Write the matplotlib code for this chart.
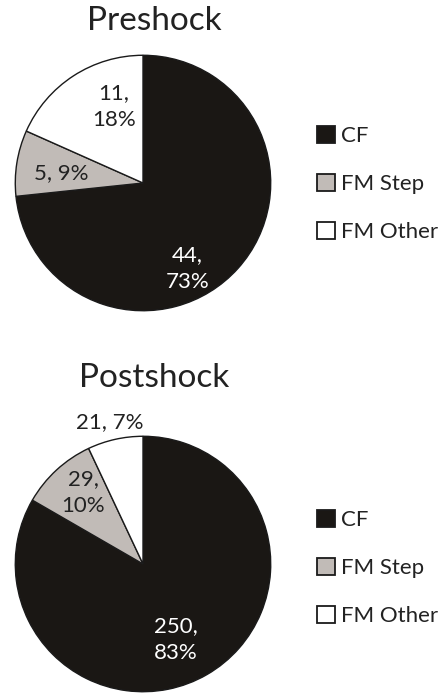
import matplotlib
matplotlib.use('Agg')
import matplotlib.pyplot as plt
from matplotlib.patches import Patch

plt.rcParams['font.family'] = ['Lato', 'DejaVu Sans']

# 数据
categories = ['CF', 'FM Step', 'FM Other']
colors = ['#1a1714', '#c1bbb7', '#ffffff']

pre_counts = [44, 5, 11]
pre_pcts = [73, 9, 18]
post_counts = [250, 29, 21]
post_pcts = [83, 10, 7]

# 标签排版: 换行或同一行, 以及在饼图坐标中的位置
pre_seps = ['\n', ' ', '\n']
post_seps = ['\n', '\n', ' ']
pre_label_xy = [(0.35, -0.67), (-0.64, 0.08), (-0.23, 0.60)]
post_label_xy = [(0.26, -0.59), (-0.47, 0.56), (-0.26, 1.11)]

W, H = 446, 696
fig = plt.figure(figsize=(W / 100, H / 100), dpi=100)


def draw_pie(cx, cy, r, title, title_y, counts, pcts, seps, label_xy, legend_y):
    ax = fig.add_axes([(cx - r) / W, 1 - (cy + r) / H, 2 * r / W, 2 * r / H])
    ax.pie(counts, colors=colors, startangle=90, counterclock=False,
           wedgeprops=dict(edgecolor='#1a1a1a', linewidth=1.0))
    ax.set_xlim(-1.01, 1.01)
    ax.set_ylim(-1.01, 1.01)
    ax.set_aspect('equal')
    ax.axis('off')
    for i, (n, p, s) in enumerate(zip(counts, pcts, seps)):
        c = 'white' if i == 0 else '#222222'
        ax.text(label_xy[i][0], label_xy[i][1], f'{n},{s}{p}%', ha='center', va='center',
                fontsize=16, color=c, linespacing=1.45, clip_on=False)
    fig.text(154 / W, 1 - title_y / H, title, ha='center', va='center', fontsize=24, color='#222222')
    handles = [Patch(facecolor=col, edgecolor='#1a1a1a', linewidth=1.3) for col in colors]
    fig.legend(handles, categories, loc='center left', bbox_to_anchor=(297 / W, 1 - legend_y / H),
               frameon=False, fontsize=16, handlelength=0.8, handleheight=0.8,
               handletextpad=0.3, labelspacing=1.25, labelcolor='#222222')


draw_pie(143, 183, 129, 'Preshock', 21, pre_counts, pre_pcts, pre_seps, pre_label_xy, 184)
draw_pie(143, 564, 129, 'Postshock', 378, post_counts, post_pcts, post_seps, post_label_xy, 568)

fig.savefig('out.png', dpi=100, facecolor='white')
